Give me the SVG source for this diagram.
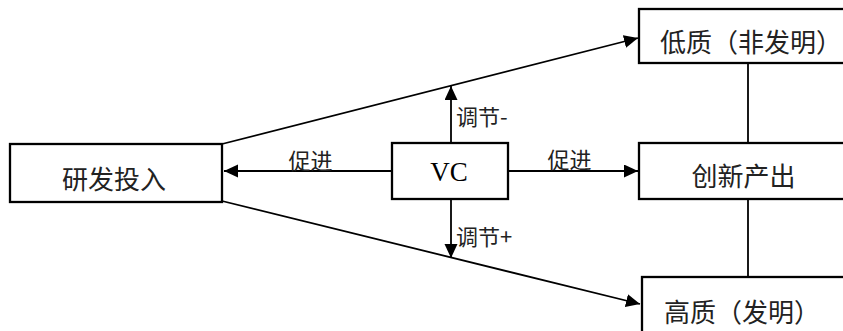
<svg xmlns="http://www.w3.org/2000/svg" width="843" height="331" viewBox="0 0 843 331">
<style>
.box{fill:#fff;stroke:#000;stroke-width:2.3}
.ln{fill:none;stroke:#000;stroke-width:1.8}
.t{font-family:"Noto Sans CJK SC","Noto Sans",sans-serif;font-size:26px;fill:#222;dominant-baseline:central}
.l{font-family:"Noto Sans CJK SC","Noto Sans",sans-serif;font-size:22px;fill:#222;dominant-baseline:central}
.vc{font-family:"Liberation Serif","Times New Roman",serif;font-size:27px;fill:#000;dominant-baseline:central}
</style>
<defs>
<marker id="ah" markerUnits="userSpaceOnUse" markerWidth="15" markerHeight="14" refX="14" refY="6.5" orient="auto">
<path d="M0,0 L14,6.5 L0,13 z" fill="#000"/>
</marker>
</defs>
<g id="connectors">
<line class="ln" x1="222" y1="144" x2="638" y2="38" marker-end="url(#ah)"/>
<line class="ln" x1="222" y1="201" x2="640" y2="304" marker-end="url(#ah)"/>
<line class="ln" x1="392" y1="171" x2="224" y2="171" marker-end="url(#ah)"/>
<line class="ln" x1="508" y1="171" x2="638" y2="171" marker-end="url(#ah)"/>
<line class="ln" x1="451" y1="143" x2="451" y2="86" marker-end="url(#ah)"/>
<line class="ln" x1="451" y1="199" x2="451" y2="258" marker-end="url(#ah)"/>
<line class="ln" x1="748" y1="63" x2="748" y2="143"/>
<line class="ln" x1="748" y1="199" x2="748" y2="277"/>
<text class="l" x="310.5" y="159" text-anchor="middle">促进</text>
<text class="l" x="569.5" y="158" text-anchor="middle">促进</text>
<text class="l" x="456" y="115">调节-</text>
<text class="l" x="456" y="235">调节+</text>
</g>
<g id="n_rd">
<rect class="box" x="10" y="144" width="212" height="58"/>
<text class="t" x="114" y="177" text-anchor="middle">研发投入</text>
</g>
<g id="n_vc">
<rect class="box" x="392" y="143" width="116" height="56"/>
<text class="vc" x="449" y="172" text-anchor="middle">VC</text>
</g>
<g id="n_low">
<rect class="box" x="639" y="9" width="220" height="54"/>
<text class="t" x="660" y="40">低质（非发明）</text>
</g>
<g id="n_out">
<rect class="box" x="639" y="143" width="220" height="56"/>
<text class="t" x="743.5" y="174" text-anchor="middle">创新产出</text>
</g>
<g id="n_high">
<rect class="box" x="642" y="277" width="220" height="70"/>
<text class="t" x="664" y="310">高质（发明）</text>
</g>
</svg>
